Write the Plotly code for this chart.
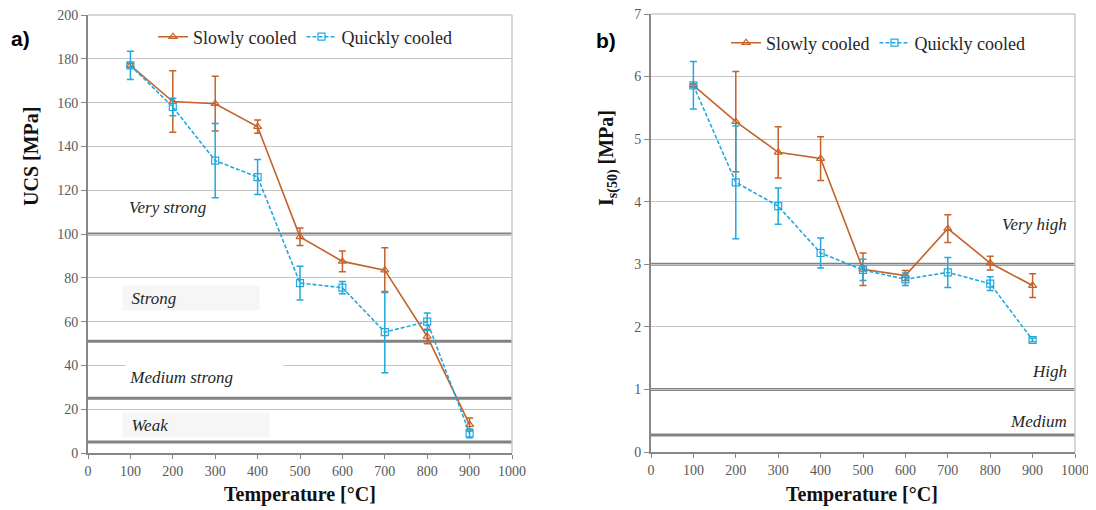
import plotly.graph_objects as go

# ---------------- data ----------------
temperature = [100, 200, 300, 400, 500, 600, 700, 800, 900]

ucs_slow = [177, 160.5, 159.5, 149, 98.7, 87.5, 83.5, 53.2, 13]
ucs_slow_err = [1, 14, 12.5, 3, 4, 4.7, 10.2, 3.3, 3]
ucs_quick = [177, 158, 133.5, 126, 77.6, 75.5, 55.2, 60, 9]
ucs_quick_err = [6.5, 4, 17, 8, 7.7, 2.8, 18.5, 3.9, 2]

is_slow = [5.86, 5.28, 4.79, 4.69, 2.92, 2.82, 3.57, 3.02, 2.66]
is_slow_err = [0.02, 0.8, 0.41, 0.35, 0.26, 0.08, 0.22, 0.11, 0.19]
is_quick = [5.86, 4.31, 3.93, 3.18, 2.91, 2.76, 2.87, 2.69, 1.79]
is_quick_err = [0.38, 0.9, 0.29, 0.24, 0.17, 0.1, 0.24, 0.11, 0.03]

ucs_class_bounds = [100, 51, 25, 5]
ucs_class_labels = ["Very strong", "Strong", "Medium strong", "Weak"]
ucs_label_y = [112, 70.8, 34.7, 12.8]

is_class_bounds = [3, 1, 0.27]
is_class_labels = ["Very high", "High", "Medium"]
is_label_y = [3.64, 1.28, 0.49]

series_names = ["Slowly cooled", "Quickly cooled"]
x_ticks = list(range(0, 1001, 100))

# ---------------- geometry (page has an 8 px body margin) ----------------
OFF = 8
W, H = 1096 - OFF, 510 - OFF


def fx(px):
    return (px - OFF) / W


def fy(py):
    return 1 - (py - OFF) / H


# ---------------- style ----------------
C_SLOW = "#C5622A"
C_QUICK = "#21A9DF"
SERIF = "Liberation Serif"
TICK_C = "#595959"
GRID_C = "#C4C4C4"
AX_C = "#878787"

fig = go.Figure()


def add_series(x, y, err, name, color, symbol, dash, xa, ya, legend):
    fig.add_trace(go.Scatter(
        x=x, y=y, name=name, mode="lines+markers",
        line=dict(color=color, width=1.6, dash=dash),
        marker=dict(symbol=symbol, size=7, color=color, line=dict(color=color, width=1.2)),
        error_y=dict(type="data", array=err, color=color, thickness=1.5, width=3.5),
        xaxis=xa, yaxis=ya, legend=legend,
    ))


add_series(temperature, ucs_slow, ucs_slow_err, series_names[0], C_SLOW, "triangle-up-open", "solid", "x", "y", "legend")
add_series(temperature, ucs_quick, ucs_quick_err, series_names[1], C_QUICK, "square-open", "4px,2px", "x", "y", "legend")
add_series(temperature, is_slow, is_slow_err, series_names[0], C_SLOW, "triangle-up-open", "solid", "x2", "y2", "legend2")
add_series(temperature, is_quick, is_quick_err, series_names[1], C_QUICK, "square-open", "4px,2px", "x2", "y2", "legend2")

shapes = []
for b in ucs_class_bounds:
    shapes.append(dict(type="line", xref="x domain", yref="y", x0=0, x1=1, y0=b, y1=b,
                       line=dict(color="#828282", width=3), layer="below"))
for b in is_class_bounds:
    shapes.append(dict(type="line", xref="x2 domain", yref="y2", x0=0, x1=1, y0=b, y1=b,
                       line=dict(color="#828282", width=3), layer="below"))
# light top / right frame
for xr, yr in (("x domain", "y domain"), ("x2 domain", "y2 domain")):
    shapes.append(dict(type="line", xref=xr, yref=yr, x0=1, x1=1, y0=0, y1=1,
                       line=dict(color="#C8C8C8", width=1.5)))
    shapes.append(dict(type="line", xref=xr, yref=yr, x0=0, x1=1, y0=1, y1=1,
                       line=dict(color="#C8C8C8", width=1.5)))

annotations = []
label_bg = [None, "#F6F6F6", "#FFFFFF", "#F6F6F6"]
label_w = [None, 136, 157, 146]
label_x = [92, 80, 88, 80]
for lab, yv, bg, w, xv in zip(ucs_class_labels, ucs_label_y, label_bg, label_w, label_x):
    a = dict(x=xv, y=yv, xref="x", yref="y",
             text="<i>" + lab + "</i>", showarrow=False, xanchor="left", yanchor="middle",
             font=dict(family=SERIF, size=17, color="#262626"))
    if bg:
        pad = "&nbsp;&nbsp;" if lab != "Medium strong" else "&nbsp;"
        a.update(bgcolor=bg, width=w, height=24, align="left", borderpad=0, text=pad + a["text"])
    annotations.append(a)
for lab, yv in zip(is_class_labels, is_label_y):
    annotations.append(dict(x=985, y=yv, xref="x2", yref="y2", text="<i>" + lab + "</i>",
                            showarrow=False, xanchor="right", yanchor="middle",
                            font=dict(family=SERIF, size=17, color="#262626")))


def paper_text(px, py, text, size, family=SERIF, angle=0, color="#111111"):
    return dict(x=fx(px), y=fy(py), xref="paper", yref="paper", text=text,
                textangle=angle, showarrow=False, xanchor="center", yanchor="middle",
                font=dict(family=family, size=size, color=color))


annotations += [
    paper_text(31, 157, "<b>UCS [MPa]</b>", 20, angle=-90),
    paper_text(608, 158, "<b>I<sub>s(50)</sub> [MPa]</b>", 20, angle=-90),
    paper_text(300, 494, "<b>Temperature [°C]</b>", 20),
    paper_text(862, 494, "<b>Temperature [°C]</b>", 20),
    paper_text(20, 39, "<b>a)</b>", 21, family="Liberation Sans", color="#000000"),
    paper_text(606, 41, "<b>b)</b>", 21, family="Liberation Sans", color="#000000"),
]

xaxis_common = dict(range=[0, 1000], tickvals=x_ticks, showgrid=False, zeroline=False,
                    showline=True, linecolor=AX_C, linewidth=2, ticks="outside", ticklen=4,
                    tickcolor=AX_C, tickfont=dict(family=SERIF, size=14, color=TICK_C),
                    automargin=False, ticklabeloverflow="allow")
yaxis_common = dict(showgrid=True, gridcolor=GRID_C, gridwidth=1.2, zeroline=False,
                    showline=True, linecolor=AX_C, linewidth=2, ticks="outside", ticklen=5,
                    tickcolor=AX_C, tickfont=dict(family=SERIF, size=14, color=TICK_C),
                    automargin=False, ticklabeloverflow="allow")

legend_common = dict(orientation="h", bgcolor="rgba(255,255,255,0)", xanchor="left", yanchor="middle",
                     font=dict(family=SERIF, size=18, color="#262626"), itemwidth=30,
                     tracegroupgap=0)

fig.update_layout(
    width=W, height=H,
    margin=dict(l=0, r=0, t=0, b=0, autoexpand=False),
    font=dict(family=SERIF),
    paper_bgcolor="white", plot_bgcolor="white",
    xaxis=dict(domain=[fx(88), fx(512)], anchor="y", **xaxis_common),
    yaxis=dict(domain=[fy(453), fy(15)], anchor="x", range=[0, 200], dtick=20, **yaxis_common),
    xaxis2=dict(domain=[fx(651), fx(1075)], anchor="y2", **xaxis_common),
    yaxis2=dict(domain=[fy(452), fy(14)], anchor="x2", range=[0, 7], dtick=1, **yaxis_common),
    legend=dict(x=fx(153), y=fy(37), **legend_common),
    legend2=dict(x=fx(726), y=fy(43), **legend_common),
    shapes=shapes,
    annotations=annotations,
    showlegend=True,
)

fig.write_html("out.html")
